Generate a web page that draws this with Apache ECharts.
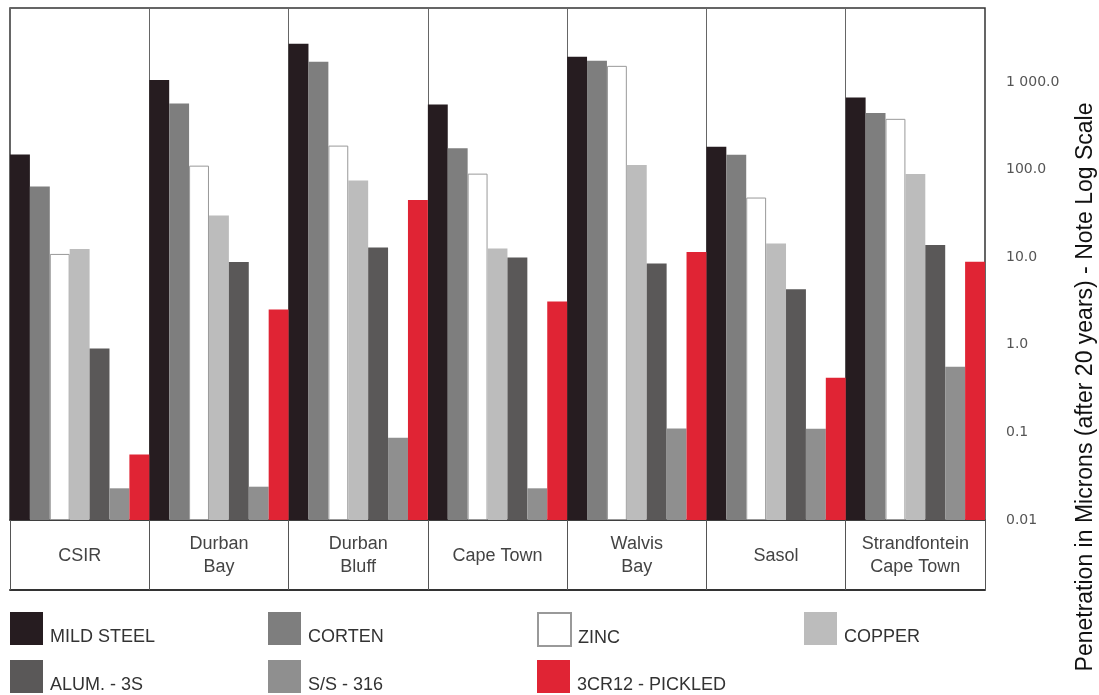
<!DOCTYPE html>
<html>
<head>
<meta charset="utf-8">
<script src="https://cdn.jsdelivr.net/npm/echarts@6/dist/echarts.min.js"></script>
<style>
html,body{margin:0;padding:0;background:#fff;}
#c{width:1099px;height:695px;}
</style>
</head>
<body>
<div id="c"></div>
<script>
var categories = ['CSIR', 'Durban\nBay', 'Durban\nBluff', 'Cape Town', 'Walvis\nBay', 'Sasol', 'Strandfontein\nCape Town'];
var seriesNames = ['MILD STEEL', 'CORTEN', 'ZINC', 'COPPER', 'ALUM. - 3S', 'S/S - 316', '3CR12 - PICKLED'];
var mildSteel = [149, 1055, 2740, 555, 1940, 183, 665];
var corten    = [64, 570, 1700, 175, 1745, 148, 443];
var zinc      = [10.9, 111, 188, 90, 1530, 48, 380];
var copper    = [12.4, 30, 75, 12.6, 113, 14.3, 89];
var alum      = [0.91, 8.8, 12.9, 9.95, 8.5, 4.3, 13.8];
var ss316     = [0.023, 0.024, 0.087, 0.023, 0.111, 0.11, 0.56];
var cr12      = [0.056, 2.53, 45, 3.13, 11.5, 0.42, 8.9];
var yTickValues = [0.01, 0.1, 1, 10, 100, 1000];
var yTickLabels = ['0.01', '0.1', '1.0', '10.0', '100.0', '1 000.0'];
var yTitle = 'Penetration in Microns (after 20 years) - Note Log Scale';

var seriesData = [mildSteel, corten, zinc, copper, alum, ss316, cr12];
var colors = ['#261c20', '#7e7e7e', '#ffffff', '#bcbcbc', '#5a5858', '#8f8f8f', '#e02434'];

var chart = echarts.init(document.getElementById('c'), null, {renderer: 'canvas'});

function fmtTick(v) {
  for (var i = 0; i < yTickValues.length; i++) {
    if (Math.abs(Math.log10(v) - Math.log10(yTickValues[i])) < 1e-6) return yTickLabels[i];
  }
  return '';
}

var series = seriesNames.map(function (n, i) {
  return {
    name: n,
    type: 'bar',
    data: seriesData[i],
    barGap: '0%',
    barCategoryGap: '0%',
    itemStyle: {
      color: colors[i],
      borderColor: i === 2 ? '#999999' : colors[i],
      borderWidth: i === 2 ? 1 : 0
    },
    emphasis: {disabled: true}
  };
});

var legendPos = [
  {left: 10, top: 612}, {left: 268, top: 612}, {left: 537, top: 612}, {left: 804, top: 612},
  {left: 10, top: 660}, {left: 268, top: 660}, {left: 537, top: 660}
];
var legends = seriesNames.map(function (n, i) {
  return {
    data: [n],
    left: legendPos[i].left,
    top: legendPos[i].top,
    padding: 0,
    itemWidth: 33,
    itemHeight: 33,
    icon: 'rect',
    selectedMode: false,
    formatter: function (name) { return '{t|' + name + '}'; },
    textStyle: {
      rich: {
        t: {fontSize: 18, color: '#333', fontFamily: 'Liberation Sans', padding: [17, 0, 0, 2]}
      }
    }
  };
});

var option = {
  animation: false,
  backgroundColor: '#ffffff',
  legend: legends,
  grid: {left: 10, right: 114, top: 8, bottom: 175, show: true, borderColor: '#333', borderWidth: 1.5, backgroundColor: 'transparent'},
  xAxis: [{
    type: 'category',
    data: categories,
    position: 'bottom',
    axisLine: {show: true, lineStyle: {color: '#333', width: 1.5}},
    axisTick: {show: true, interval: 0, length: 70, inside: false, lineStyle: {color: '#555', width: 1}},
    splitLine: {show: true, interval: 0, lineStyle: {color: '#666', width: 1}},
    axisLabel: {interval: 0, margin: 36, verticalAlign: 'middle', lineHeight: 23, fontSize: 18, color: '#444', fontFamily: 'Liberation Sans'}
  }, {
    type: 'category',
    data: categories,
    position: 'bottom',
    offset: 70,
    axisLine: {show: true, lineStyle: {color: '#333', width: 2}},
    axisTick: {show: false},
    splitLine: {show: false},
    axisLabel: {show: false}
  }],
  yAxis: {
    type: 'log',
    logBase: 10,
    min: 0.01,
    max: 7000,
    startValue: 0.01,
    position: 'right',
    axisLine: {show: false},
    axisTick: {show: false},
    splitLine: {show: false},
    axisLabel: {showMaxLabel: false, margin: 21, fontSize: 14, color: '#555', fontFamily: 'DejaVu Sans', formatter: fmtTick}
  },
  graphic: [{
    type: 'text',
    x: 1086,
    y: 387,
    rotation: Math.PI / 2,
    style: {text: yTitle, fill: '#111', font: '23px "Liberation Sans"', textAlign: 'center', textVerticalAlign: 'middle'}
  }],
  series: series
};
chart.setOption(option);
</script>
</body>
</html>
